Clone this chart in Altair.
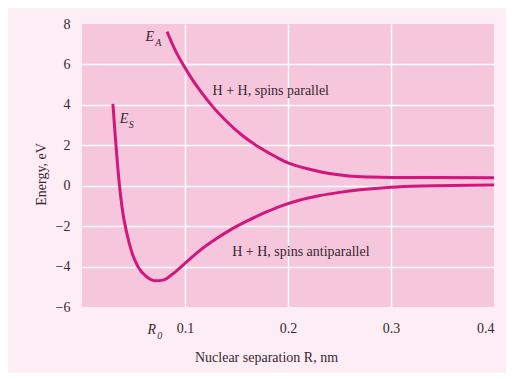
import altair as alt
import pandas as pd

# E_S curve (H + H, spins antiparallel)
es_r = [0.0300, 0.0325, 0.0350, 0.0375, 0.0400, 0.0433, 0.0481, 0.0545, 0.0626,
        0.0707, 0.0787, 0.0884, 0.0997, 0.114, 0.131, 0.147, 0.163, 0.179,
        0.195, 0.211, 0.230, 0.250, 0.270, 0.300, 0.330, 0.400]
es_e = [4.05, 2.3, 0.75, -0.5, -1.45, -2.3, -3.25, -4.02, -4.5,
        -4.7, -4.67, -4.35, -3.85, -3.22, -2.6, -2.1, -1.68, -1.3,
        -0.97, -0.72, -0.5, -0.33, -0.2, -0.07, -0.01, 0.04]

# E_A curve (H + H, spins parallel)
ea_r = [0.0826, 0.090, 0.0997, 0.1078, 0.1174, 0.1271, 0.140, 0.156, 0.172,
        0.1885, 0.200, 0.218, 0.240, 0.259, 0.280, 0.300, 0.400]
ea_e = [7.62, 6.76, 5.86, 5.2, 4.52, 3.9, 3.2, 2.47, 1.9,
        1.42, 1.13, 0.85, 0.6, 0.48, 0.43, 0.41, 0.40]

x_ticks = [0.1, 0.2, 0.3, 0.4]
y_ticks = [-6, -4, -2, 0, 2, 4, 6, 8]

ann_text = ["H + H, spins parallel", "H + H, spins antiparallel"]
ann_r = [0.1268, 0.1458]
ann_e = [4.7, -3.27]

sym_main = ["E", "E", "R"]
sym_main_r = [0.0658, 0.0407, 0.0678]
sym_main_e = [7.38, 3.32, -7.13]
sym_sub = ["A", "S", "0"]
sym_sub_r = [0.0740, 0.0478, 0.0755]
sym_sub_e = [7.05, 2.98, -7.45]

curve_color = "#d2167e"
text_color = "#3a2730"
font = "Liberation Serif"
fs = 14

curves = pd.DataFrame(
    {"r": es_r + ea_r, "e": es_e + ea_e,
     "curve": ["ES"] * len(es_r) + ["EA"] * len(ea_r)}
)
ann = pd.DataFrame({"r": ann_r, "e": ann_e, "t": ann_text})
mains = pd.DataFrame({"r": sym_main_r, "e": sym_main_e, "t": sym_main})
subs = pd.DataFrame({"r": sym_sub_r, "e": sym_sub_e, "t": sym_sub})

xscale = alt.Scale(domain=[0, 0.4], nice=False, zero=False)
yscale = alt.Scale(domain=[-6, 8], nice=False, zero=False)

xaxis = alt.Axis(
    values=x_ticks, format=".1f", grid=True, gridColor="white", gridWidth=1.5,
    gridOpacity={"condition": {"test": "datum.value >= 0.399", "value": 0}, "value": 1},
    domain=False, ticks=False, labelFont=font, labelFontSize=fs,
    labelColor=text_color, labelPadding=14,
    title="Nuclear separation R, nm", titleFont=font, titleFontSize=fs,
    titleFontWeight="normal", titleColor=text_color,
    titleX=184, titleY=50, titleBaseline="middle", titleAlign="center",
)
yaxis = alt.Axis(
    values=y_ticks, grid=True, gridColor="white", gridWidth=1.5,
    gridOpacity={"condition": {"test": "datum.value <= -6 || datum.value >= 8", "value": 0}, "value": 1},
    domain=False, ticks=False, labelFont=font, labelFontSize=fs,
    labelColor=text_color, labelPadding=12,
    title="Energy, eV", titleFont=font, titleFontSize=fs,
    titleFontWeight="normal", titleColor=text_color,
    titleX=-41, titleY=150, titleBaseline="middle", titleAlign="center", titleAngle=270,
)

lines = alt.Chart(curves).mark_line(
    color=curve_color, strokeWidth=3, interpolate="monotone"
).encode(
    x=alt.X("r:Q", scale=xscale, axis=xaxis),
    y=alt.Y("e:Q", scale=yscale, axis=yaxis),
    detail="curve:N",
)

ann_layer = alt.Chart(ann).mark_text(
    align="left", baseline="middle", font=font, fontSize=fs, color=text_color
).encode(x=alt.X("r:Q", scale=xscale), y=alt.Y("e:Q", scale=yscale), text="t:N")

main_layer = alt.Chart(mains).mark_text(
    align="center", baseline="middle", font=font, fontSize=14, fontStyle="italic",
    color=text_color
).encode(x=alt.X("r:Q", scale=xscale), y=alt.Y("e:Q", scale=yscale), text="t:N")

sub_layer = alt.Chart(subs).mark_text(
    align="center", baseline="middle", font=font, fontSize=10, fontStyle="italic",
    color=text_color
).encode(x=alt.X("r:Q", scale=xscale), y=alt.Y("e:Q", scale=yscale), text="t:N")

chart = alt.layer(lines, ann_layer, main_layer, sub_layer).properties(
    width=412, height=283,
    autosize=alt.AutoSizeParams(type="none"),
    padding={"left": 74, "top": 16, "right": 12, "bottom": 66},
    background="#fdedf4",
).configure_view(fill="#f5c6dc", strokeWidth=0)

chart.save("out.html", embed_options={"renderer": "svg", "actions": False})
